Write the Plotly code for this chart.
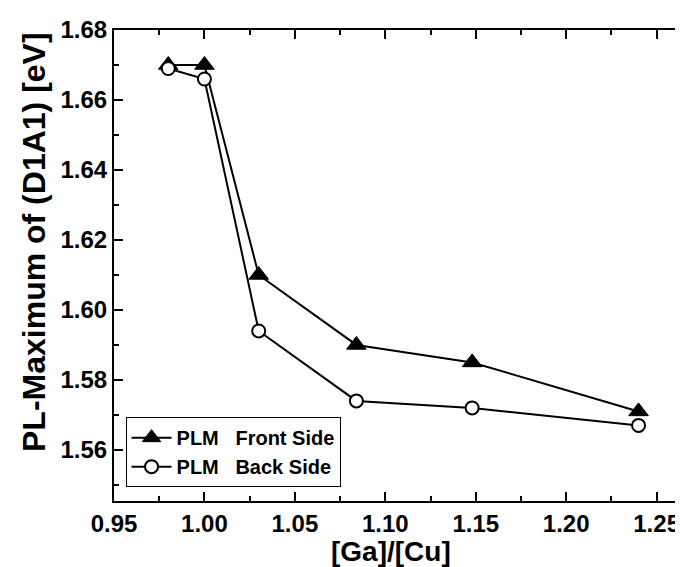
import plotly.graph_objects as go

ga_cu = [0.98, 1.00, 1.03, 1.084, 1.148, 1.24]
front_side = [1.670, 1.670, 1.610, 1.590, 1.585, 1.571]
back_side = [1.669, 1.666, 1.594, 1.574, 1.572, 1.567]

FONT = "Liberation Sans, Arial, sans-serif"

fig = go.Figure()
fig.add_trace(go.Scatter(
    x=ga_cu, y=front_side, mode="lines+markers",
    name="<b>PLM\u00a0\u00a0 Front Side</b>",
    line=dict(color="black", width=2),
    marker=dict(symbol="triangle-up", size=17, color="black", line=dict(color="black", width=1)),
))
fig.add_trace(go.Scatter(
    x=ga_cu, y=back_side, mode="lines+markers",
    name="<b>PLM\u00a0\u00a0 Back Side</b>",
    line=dict(color="black", width=2),
    marker=dict(symbol="circle", size=13, color="white", line=dict(color="black", width=2)),
))

fig.update_layout(
    width=683, height=567,
    margin=dict(l=106, r=0, t=22, b=74),
    paper_bgcolor="white", plot_bgcolor="white",
    font=dict(family=FONT, color="black"),
    showlegend=True,
    legend=dict(
        x=0.02, y=0.178, xanchor="left", yanchor="top",
        bgcolor="white", bordercolor="black", borderwidth=1,
        font=dict(size=20, family=FONT, color="black"),
        tracegroupgap=0, itemwidth=40,
    ),
    annotations=[
        dict(text="<b>[Ga]/[Cu]</b>", xref="paper", yref="paper",
             x=(383 - 106) / 577, y=-(543 - 493) / 471, xanchor="center", yanchor="middle",
             showarrow=False, font=dict(size=28, family=FONT, color="black")),
        dict(text="<b>PL-Maximum of (D1A1) [eV]</b>", xref="paper", yref="paper",
             x=-(106 - 26) / 577, y=(493 - 234) / 471, xanchor="center", yanchor="middle",
             textangle=-90, showarrow=False, font=dict(size=32, family=FONT, color="black")),
    ],
)

fig.update_xaxes(
    range=[0.95, 1.269], dtick=0.05, tick0=0.95, tickformat=".2f",
    ticks="inside", ticklen=9, tickwidth=2, tickcolor="black",
    showline=True, linecolor="black", linewidth=2, mirror="ticks",
    showgrid=False, zeroline=False,
    tickfont=dict(size=24, family=FONT, color="black", weight="bold"),
    minor=dict(dtick=0.025, tick0=0.95, ticks="inside", ticklen=5, tickwidth=2, tickcolor="black", showgrid=False),
)
fig.update_yaxes(
    range=[1.5454, 1.68], dtick=0.02, tick0=1.56, tickformat=".2f",
    ticks="inside", ticklen=9, tickwidth=2, tickcolor="black",
    showline=True, linecolor="black", linewidth=2, mirror=False,
    showgrid=False, zeroline=False,
    tickfont=dict(size=24, family=FONT, color="black", weight="bold"),
    minor=dict(dtick=0.01, tick0=1.56, ticks="inside", ticklen=5, tickwidth=2, tickcolor="black", showgrid=False),
)

fig.write_html("out.html")
